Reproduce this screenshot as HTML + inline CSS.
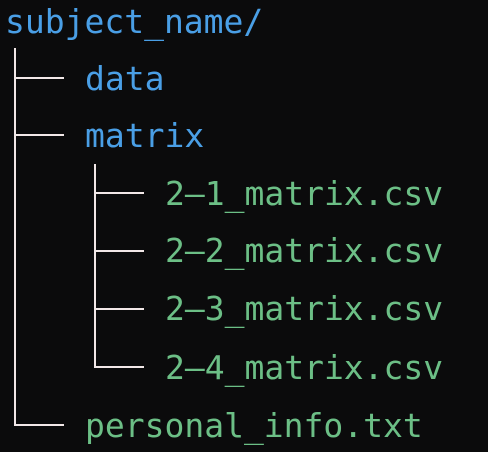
<!DOCTYPE html>
<html><head><style>
body{margin:0;width:488px;height:452px;background:#0b0b0c;position:relative;overflow:hidden;font-family:"DejaVu Sans Mono","Liberation Mono",monospace;font-size:33px;}
.t{position:absolute;line-height:41px;white-space:pre;}
.b{color:#4a9fe6}.g{color:#6cbf86}
.l{position:absolute;background:#f2e8e8}
</style></head><body>
<div class="t b" style="left:5px;top:1px">subject_name/</div>
<div class="t b" style="left:85px;top:58px">data</div>
<div class="t b" style="left:85px;top:115px">matrix</div>
<div class="t g" style="left:165px;top:173px">2–1_matrix.csv</div>
<div class="t g" style="left:165px;top:230px">2–2_matrix.csv</div>
<div class="t g" style="left:165px;top:288px">2–3_matrix.csv</div>
<div class="t g" style="left:165px;top:347px">2–4_matrix.csv</div>
<div class="t g" style="left:85px;top:405px">personal_info.txt</div>
<div class="l" style="left:14px;top:48px;width:2px;height:378px"></div>
<div class="l" style="left:14px;top:77px;width:50px;height:2px"></div>
<div class="l" style="left:14px;top:134px;width:50px;height:2px"></div>
<div class="l" style="left:14px;top:424px;width:50px;height:2px"></div>
<div class="l" style="left:94px;top:164px;width:2px;height:204px"></div>
<div class="l" style="left:94px;top:192px;width:50px;height:2px"></div>
<div class="l" style="left:94px;top:250px;width:50px;height:2px"></div>
<div class="l" style="left:94px;top:308px;width:50px;height:2px"></div>
<div class="l" style="left:94px;top:366px;width:50px;height:2px"></div>
</body></html>
